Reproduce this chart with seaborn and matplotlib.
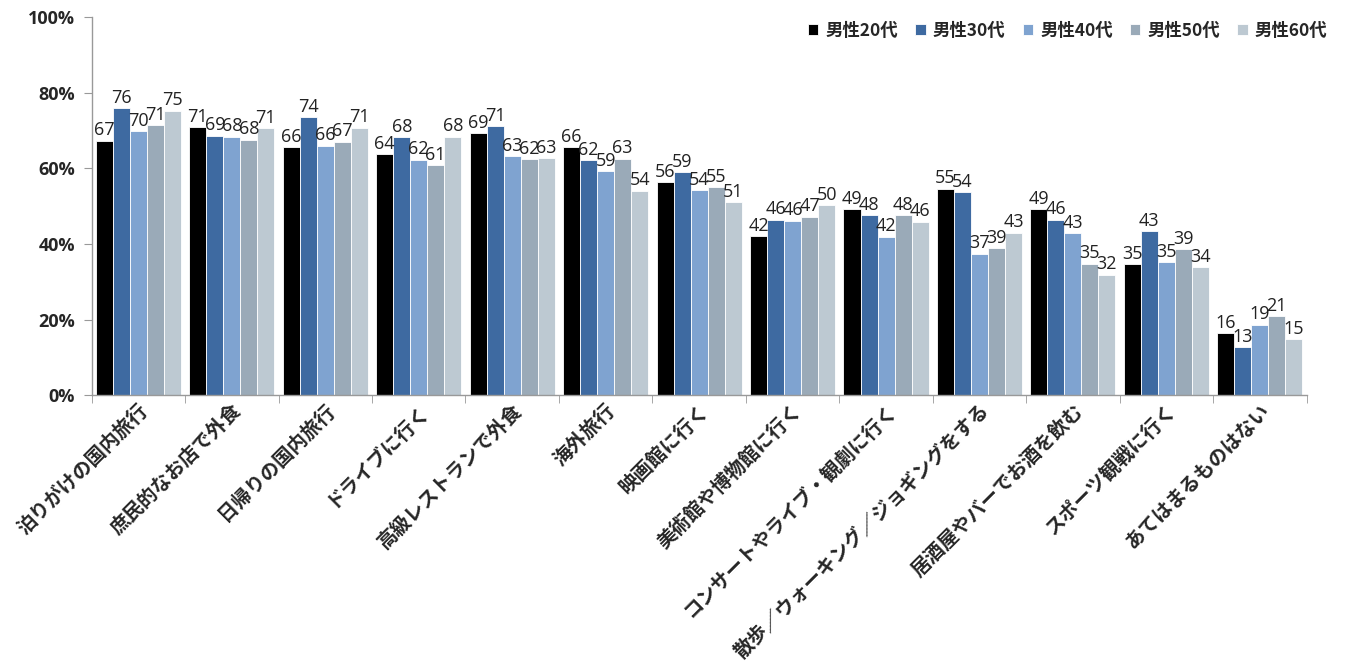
import matplotlib
matplotlib.use("Agg")
import matplotlib.pyplot as plt
import seaborn as sns
import pandas as pd
import numpy as np

categories = ["泊りがけの国内旅行", "庶民的なお店で外食", "日帰りの国内旅行", "ドライブに行く",
              "高級レストランで外食", "海外旅行", "映画館に行く", "美術館や博物館に行く",
              "コンサートやライブ・観劇に行く", "散歩／ウォーキング／ジョギングをする",
              "居酒屋やバーでお酒を飲む", "スポーツ観戦に行く", "あてはまるものはない"]
series_names = ["男性20代", "男性30代", "男性40代", "男性50代", "男性60代"]
m20 = [67.3, 70.9, 65.6, 63.8, 69.3, 65.6, 56.4, 42.1, 49.2, 54.6, 49.2, 34.7, 16.4]
m30 = [75.9, 68.7, 73.5, 68.2, 71.1, 62.1, 59.0, 46.4, 47.6, 53.7, 46.4, 43.4, 12.7]
m40 = [69.8, 68.4, 66.0, 62.3, 63.2, 59.2, 54.2, 46.2, 41.9, 37.4, 42.8, 35.2, 18.6]
m50 = [71.4, 67.6, 67.1, 60.8, 62.4, 62.6, 55.1, 47.2, 47.6, 38.9, 34.8, 38.6, 20.8]
m60 = [75.3, 70.6, 70.8, 68.4, 62.7, 54.1, 51.1, 50.3, 45.9, 43.0, 31.9, 33.8, 14.8]
yticks = [0, 20, 40, 60, 80, 100]
ytick_labels = ["0%", "20%", "40%", "60%", "80%", "100%"]
colors = ["#000000", "#3E6AA1", "#7FA3D0", "#9AAAB8", "#BDC9D2"]

rows = []
for name, vals in zip(series_names, [m20, m30, m40, m50, m60]):
    for c, v in zip(categories, vals):
        rows.append({"category": c, "series": name, "value": v})
df = pd.DataFrame(rows)

sns.set_style("white")
plt.rcParams['font.family'] = ['Noto Sans CJK JP', 'DejaVu Sans']

fig = plt.figure(figsize=(13.47, 6.64), dpi=100)
ax = fig.add_axes([0.068, 0.405, 0.902, 0.569])

sns.barplot(data=df, x="category", y="value", hue="series", order=categories,
            hue_order=series_names, palette=colors, width=0.91, saturation=1,
            edgecolor="white", linewidth=0.6, ax=ax)

for cont in ax.containers:
    ax.bar_label(cont, labels=[f"{v:.0f}" for v in cont.datavalues], padding=1,
                 fontsize=13, family=['Open Sans', 'DejaVu Sans'], color="#222222")

ax.set_ylim(0, 100)
ax.set_xlim(-0.5, len(categories) - 0.5)
ax.set_yticks(yticks)
ax.set_yticklabels(ytick_labels, fontsize=13, fontweight="bold",
                   family=['Open Sans', 'DejaVu Sans'])
ax.set_xticks(range(len(categories)))
ax.set_xticklabels(categories, rotation=45, ha="right", rotation_mode="anchor",
                   fontsize=14, fontweight="bold")
for lab in ax.get_xticklabels():
    lab.set_transform(lab.get_transform() + matplotlib.transforms.ScaledTranslation(0.12, -0.08, fig.dpi_scale_trans))
ax.tick_params(axis="x", length=0, pad=4)
ax.tick_params(axis="y", length=6, color="#999999", direction="out", left=True, pad=6)
# category boundary tick marks
ax.set_xticks(np.arange(-0.5, len(categories), 1.0), minor=True)
ax.tick_params(axis="x", which="minor", length=6, color="#999999", direction="out", bottom=True)

ax.set_xlabel("")
ax.set_ylabel("")
for s in ["top", "right"]:
    ax.spines[s].set_visible(False)
for s in ["left", "bottom"]:
    ax.spines[s].set_color("#999999")
    ax.spines[s].set_linewidth(1)

handles, labels = ax.get_legend_handles_labels()
ax.legend(handles, labels, loc="upper right", bbox_to_anchor=(1.03, 1.03), ncol=5,
          frameon=False, prop={"size": 12.5, "weight": "bold"}, handlelength=0.6,
          handleheight=0.6, handletextpad=0.4, columnspacing=1.0)

fig.savefig("out.png", dpi=100)
